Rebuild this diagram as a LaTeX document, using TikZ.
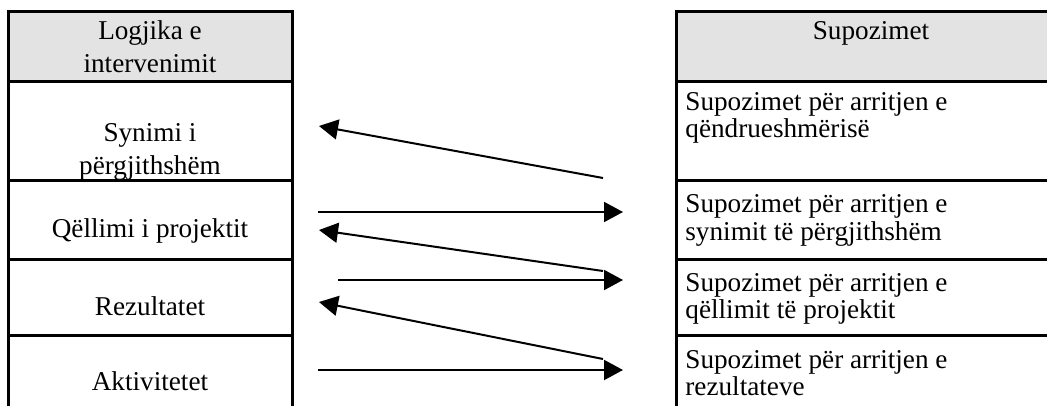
\documentclass[tikz,border=0pt]{standalone}
\usepackage{fontspec}
\setmainfont{Liberation Serif}
\usetikzlibrary{arrows.meta}
\definecolor{headgray}{RGB}{227,227,227}
\tikzset{
  rule/.style={line width=1.5pt},
  lefttext/.style={align=center,anchor=base,inner sep=0pt,font=\fontsize{13.6}{16.5}\selectfont},
  righttext/.style={align=left,anchor=base west,inner sep=0pt,font=\fontsize{13.6}{13.5}\selectfont},
  arr/.style={line width=1pt,-{Triangle[length=9.5pt,width=10pt]}}
}
\begin{document}
\begin{tikzpicture}[x=0.5pt,y=-0.5pt]
\useasboundingbox (0,0) rectangle (1047,406);

		% header shading
		\fill[headgray] (8,12) rectangle (292,82);
		\fill[headgray] (676,12) rectangle (1060,82);

		% left table
		\draw[rule] (8,406) -- (8,12) -- (292,12) -- (292,406);
		\foreach \y in {82,181,259,335} \draw[rule] (8,\y) -- (292,\y);

		% right table
		\draw[rule] (676,406) -- (676,12) -- (1060,12);
		\foreach \y in {82,181,259,335} \draw[rule] (676,\y) -- (1060,\y);

		% base of a two-line text is its last line
		\node[lefttext] (logic) at (150,73)  {Logjika e\\intervenimit};
		\node[lefttext] (goal)  at (150,175) {Synimi i\\përgjithshëm};
		\node[lefttext] (purp)  at (150,237) {Qëllimi i projektit};
		\node[lefttext] (res)   at (150,315) {Rezultatet};
		\node[lefttext] (act)   at (150,390) {Aktivitetet};

		\node[lefttext]  (assum) at (871,40)  {Supozimet};
		\node[righttext] (sust)  at (685,138) {Supozimet për arritjen e\\qëndrueshmërisë};
		\node[righttext] (sgoal) at (685,240) {Supozimet për arritjen e\\synimit të përgjithshëm};
		\node[righttext] (spurp) at (685,318) {Supozimet për arritjen e\\qëllimit të projektit};
		\node[righttext] (sres)  at (685,395) {Supozimet për arritjen e\\rezultateve};

		% arrow ends
		\coordinate (u1) at (603,178); \coordinate (v1) at (319,126);
		\coordinate (u2) at (318,212); \coordinate (v2) at (623,212);
		\coordinate (u3) at (603,271); \coordinate (v3) at (319,230);
		\coordinate (u4) at (338,280); \coordinate (v4) at (623,280);
		\coordinate (u5) at (603,359); \coordinate (v5) at (319,302);
		\coordinate (u6) at (318,370); \coordinate (v6) at (623,370);

		\foreach \i in {1,...,6} \draw[arr] (u\i) -- (v\i);

\end{tikzpicture}
\end{document}
